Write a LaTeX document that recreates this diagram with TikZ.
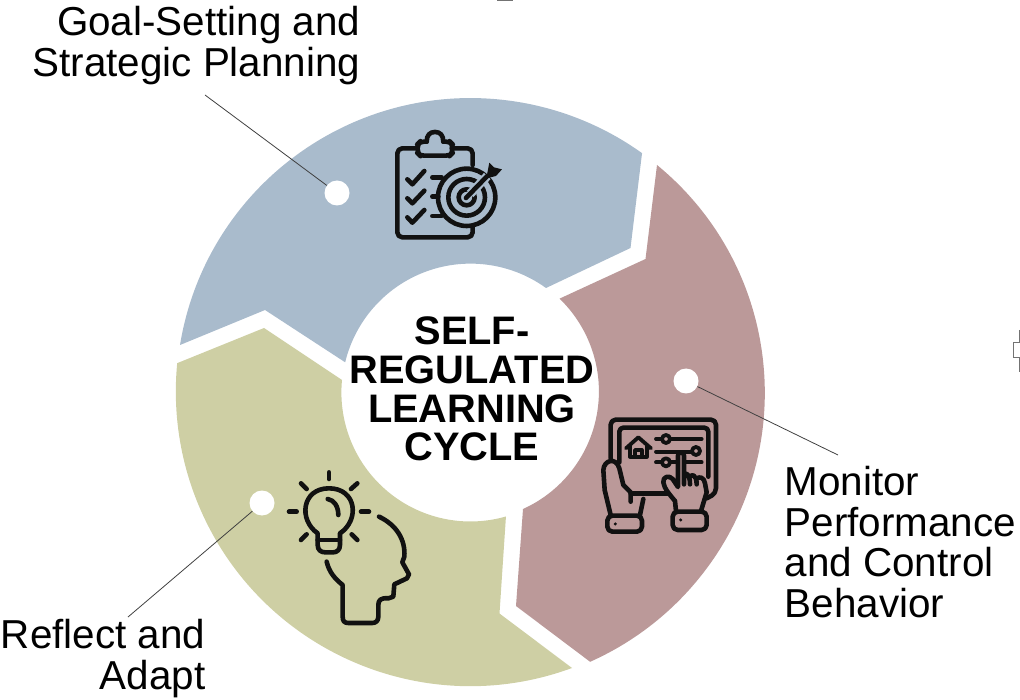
\documentclass[tikz,border=0pt]{standalone}
\usepackage{fontspec}
\setmainfont{Liberation Sans}
\definecolor{segblue}{HTML}{A9BBCC}
\definecolor{segred}{HTML}{BB9999}
\definecolor{segolive}{HTML}{CECFA4}
\definecolor{ink}{HTML}{111111}
\tikzset{
  segment/.style={draw=none},
  pin/.style={circle,fill=white,draw=none,minimum size=25pt,inner sep=0pt},
  leader/.style={draw=black!75,line width=0.8pt},
  caption/.style={inner sep=0pt,font=\fontsize{40.4}{40.4}\selectfont},
  hub/.style={inner sep=0pt,align=center,font=\fontsize{39.8}{38.8}\selectfont\bfseries},
  glyph/.style={draw=ink,line width=4.6pt,line cap=round,line join=round},
  fineglyph/.style={draw=ink,line width=3.8pt,line cap=round,line join=round},
  handle/.style={draw=black!55,line width=1pt},
}
\begin{document}
\begin{tikzpicture}[x=1pt,y=-1pt]
\useasboundingbox (0,0) rectangle (1020,700);
\coordinate (c) at (470.5,392.5);

% ring segments
\fill[segblue,segment] (180,345) arc[start angle=-170.7,end angle=-54.4,radius=294.5]
  -- (630.5,248) -- (546,288) arc[start angle=-54.2,end angle=-166.4,radius=129]
  -- (265,310) -- cycle;
\fill[segred,segment] (657,165) arc[start angle=-50.66,end angle=66,radius=294.5]
  -- (516,606) -- (523,509) arc[start angle=65.7,end angle=-46,radius=129]
  -- (645.5,259) -- cycle;
\fill[segolive,segment] (572,668) arc[start angle=69.8,end angle=185.55,radius=294.5]
  -- (264,328) -- (342,380) arc[start angle=185.55,end angle=74,radius=129]
  -- (499.5,613.5) -- cycle;

% central title
\node[hub] (title) at (472,389) {SELF-\\REGULATED\\LEARNING\\CYCLE};

% pins, captions and leaders
\node[pin] (pinA) at (337,193) {};
\node[pin] (pinB) at (686,381) {};
\node[pin] (pinC) at (262,503) {};
\node[caption,align=right,anchor=north east] (goal) at (360.5,6.5) {Goal-Setting and\\Strategic Planning};
\node[caption,align=left,anchor=north west] (monitor) at (784.5,466.5) {Monitor\\Performance\\and Control\\Behavior};
\node[caption,align=right,anchor=north east] (reflect) at (205.5,619.5) {Reflect and\\Adapt};
\coordinate (goalEnd) at (205,95);
\coordinate (monitorEnd) at (838,455);
\coordinate (reflectEnd) at (128,617);
\draw[leader] (goalEnd) -- (pinA);
\draw[leader] (monitorEnd) -- (pinB);
\draw[leader] (reflectEnd) -- (pinC);

% clipboard with target
\begin{scope}[shift={(370,120)},x=0.3333pt,y=-0.3333pt]
  \draw[glyph,rounded corners=5pt] (308,135) -- (308,85) -- (245,85) (140,85) -- (82,85) -- (82,352) -- (308,352) -- (308,320);
  \draw[glyph,rounded corners=4pt] (170,65) -- (150,65) -- (143,72) -- (143,100) -- (150,107) -- (240,107) -- (247,100) -- (247,72) -- (240,65) -- (220,65);
  \draw[glyph] (170,65) .. controls (170,45) and (180,36) .. (195,36)
     .. controls (210,36) and (220,45) .. (220,65);
  \draw[glyph] (112,178) -- (127,193) -- (163,153);
  \draw[glyph] (112,235) -- (127,250) -- (163,212);
  \draw[glyph] (112,292) -- (127,308) -- (163,270);
  \draw[glyph] (187,172) -- (215,172);
  \draw[glyph] (187,230) -- (205,230);
  \draw[glyph] (187,288) -- (215,288);
  \draw[glyph] (290,232) circle[radius=86];
  \draw[glyph] (290,232) circle[radius=55];
  \draw[glyph] (290,232) circle[radius=24];
  \draw[segblue,line width=9pt] (300,222) -- (352,168);
  \draw[glyph] (288,234) -- (352,168);
  \fill[ink] (350,170) -- (358,128) -- (372,142) -- (396,148) -- (378,168) -- (362,172) -- cycle;
\end{scope}

% tablet held in two hands
\begin{scope}[shift={(590,405)},x=0.3333pt,y=-0.3333pt]
  \draw[glyph,rounded corners=5pt] (62,160) -- (62,44) -- (378,44) -- (378,265) -- (350,280);
  \draw[glyph,rounded corners=4pt] (88,172) -- (88,68) -- (355,68) -- (355,215);
  \draw[glyph] (122,266) -- (232,266);
  % house
  \draw[fineglyph] (108,130) -- (145,97) -- (183,130);
  \draw[fineglyph] (120,125) -- (120,155) -- (170,155) -- (170,125);
  \draw[fineglyph] (135,155) -- (135,135) -- (155,135) -- (155,155);
  % sliders
  \draw[fineglyph] (198,102) -- (216,102) (240,102) -- (335,102);
  \draw[fineglyph] (228,102) circle[radius=12];
  \draw[fineglyph] (198,140) -- (305,140);
  \draw[fineglyph] (318,138) circle[radius=12];
  \draw[fineglyph] (198,172) -- (216,172) (240,172) -- (262,172) (282,172) -- (335,172);
  \draw[fineglyph] (228,172) circle[radius=12];
  % right hand
  \draw[glyph,rounded corners=5pt] (248,320) rectangle (350,375);
  \fill[ink] (272,345) circle[radius=5];
  \draw[glyph] (258,318) -- (255,288) .. controls (240,270) and (222,250) .. (220,232)
     .. controls (218,214) and (238,210) .. (248,222) -- (264,246) -- (264,152)
     .. controls (264,138) and (282,138) .. (282,152) -- (282,238)
     (282,212) .. controls (284,200) and (300,204) .. (300,238)
     (300,216) .. controls (304,206) and (320,208) .. (320,238)
     (320,222) .. controls (326,212) and (344,218) .. (345,235)
     -- (350,262) -- (333,318);
  % left hand
  \draw[glyph,rounded corners=5pt] (52,332) rectangle (156,380);
  \fill[ink] (76,357) circle[radius=5];
  \draw[glyph] (62,330) -- (44,255) -- (40,195)
     .. controls (42,165) and (78,155) .. (88,190)
     -- (100,240) -- (122,262) -- (122,290);
  \draw[glyph] (160,282) -- (150,330);
\end{scope}

% light bulb above a head in profile
\begin{scope}[shift={(275,465)},x=0.3333pt,y=-0.3333pt]
  \draw[glyph] (128,205) .. controls (70,165) and (80,70) .. (162,70)
     .. controls (245,70) and (255,165) .. (195,205)
     -- (195,240) .. controls (195,255) and (185,262) .. (175,262)
     -- (150,262) .. controls (138,262) and (128,255) .. (128,240) -- cycle;
  \draw[glyph] (128,225) -- (195,225);
  \draw[glyph] (158,102) .. controls (178,105) and (190,125) .. (190,150);
  \draw[glyph] (162,22) -- (162,42);
  \draw[glyph] (78,55) -- (95,72);
  \draw[glyph] (228,72) -- (247,55);
  \draw[glyph] (42,140) -- (65,140);
  \draw[glyph] (258,140) -- (282,140);
  \draw[glyph] (78,225) -- (95,208);
  \draw[glyph] (230,208) -- (247,225);
  \draw[glyph] (312,155) .. controls (365,180) and (392,225) .. (388,275)
     -- (382,292) -- (402,328) -- (396,340) -- (358,358) -- (355,395)
     -- (340,400) .. controls (318,398) and (310,405) .. (310,420) -- (310,455)
     .. controls (310,468) and (302,474) .. (292,474) -- (220,474)
     .. controls (208,474) and (203,468) .. (203,455) -- (203,360)
     .. controls (178,340) and (162,320) .. (155,290);
\end{scope}

% editing handles at the frame edge
\draw[handle] (497,1) -- (513,1);
\draw[handle] (1019.4,330) -- (1019.4,343) -- (1013.5,343) -- (1013.5,358) -- (1019.4,358) -- (1019.4,372);
\end{tikzpicture}
\end{document}
